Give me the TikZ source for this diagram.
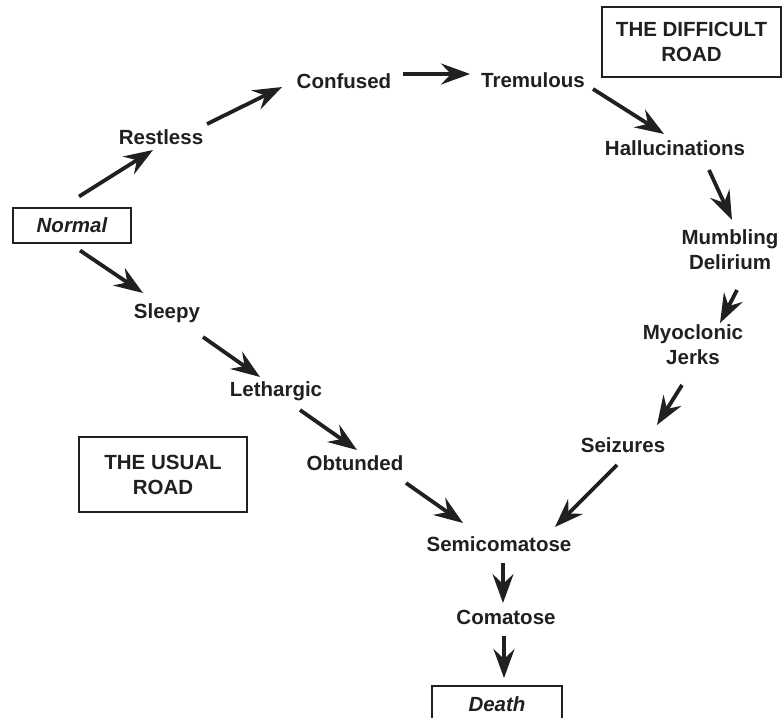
\documentclass[tikz,border=0pt]{standalone}
\usepackage{fontspec}
\setmainfont{Liberation Sans}
\usetikzlibrary{arrows.meta}
\definecolor{ink}{HTML}{202020}
\tikzset{
  lbl/.style={font=\fontsize{20.5}{25}\selectfont\bfseries, text=ink, inner sep=0pt, align=center},
  ibox/.style={lbl, font=\fontsize{20.5}{25}\selectfont\bfseries\itshape, draw=ink, line width=2.8pt},
  rbox/.style={lbl, draw=ink, line width=2.8pt},
  arr/.style={draw=ink, line width=3.8pt, -{Stealth[length=29pt,width=21pt,inset=10pt]}}
}
\begin{document}
\begin{tikzpicture}[x=1pt,y=-1pt]
\useasboundingbox (0,0) rectangle (783,717);
\clip (0,0) rectangle (783,717);
% nodes
\node[ibox, minimum width=118pt, minimum height=35pt] (normal) at (72,225.5) {Normal};
\node[lbl] (restless) at (161,137) {Restless};
\node[lbl] (confused) at (344,81) {Confused};
\node[lbl] (tremulous) at (533,80) {Tremulous};
\node[lbl] (halluc) at (675,148) {Hallucinations};
\node[lbl] (mumbling) at (730,250) {Mumbling\\Delirium};
\node[lbl] (myoclonic) at (693,345) {Myoclonic\\Jerks};
\node[lbl] (seizures) at (623,445) {Seizures};
\node[lbl] (semi) at (499,544) {Semicomatose};
\node[lbl] (comatose) at (506,617) {Comatose};
\node[lbl] (sleepy) at (167,313) {Sleepy};
\node[lbl] (lethargic) at (276,391) {Lethargic};
\node[lbl] (obtunded) at (355,463) {Obtunded};
\node[rbox, minimum width=168pt, minimum height=75pt] (usual) at (163,474.5) {THE USUAL\\ROAD};
\node[rbox, minimum width=179pt, minimum height=70pt] (difficult) at (691.5,42) {THE DIFFICULT\\ROAD};
\node[ibox, minimum width=130pt, minimum height=36pt] (death) at (497,704) {Death};
% connectors
\draw[arr] ([shift={(7,-29)}]normal.center) -- ([shift={(-8,13)}]restless.center);
\draw[arr] ([shift={(46,-13)}]restless.center) -- ([shift={(-62,6)}]confused.center);
\draw[arr] ([shift={(59,-7)}]confused.center) -- ([shift={(-63,-6)}]tremulous.center);
\draw[arr] ([shift={(60,9)}]tremulous.center) -- ([shift={(-11,-14)}]halluc.center);
\draw[arr] ([shift={(34,22)}]halluc.center) -- ([shift={(2,-30)}]mumbling.center);
\draw[arr] ([shift={(7,40)}]mumbling.center) -- ([shift={(27,-22)}]myoclonic.center);
\draw[arr] ([shift={(-11,40)}]myoclonic.center) -- ([shift={(34,-20)}]seizures.center);
\draw[arr] ([shift={(-6,20)}]seizures.center) -- ([shift={(56,-17)}]semi.center);
\draw[arr] ([shift={(51,20)}]obtunded.center) -- ([shift={(-36,-21)}]semi.center);
\draw[arr] ([shift={(8,25)}]normal.center) -- ([shift={(-24,-20)}]sleepy.center);
\draw[arr] ([shift={(36,24)}]sleepy.center) -- ([shift={(-16,-14)}]lethargic.center);
\draw[arr] ([shift={(24,19)}]lethargic.center) -- ([shift={(2,-13)}]obtunded.center);
\draw[arr] ([shift={(4,19)}]semi.center) -- ([shift={(-3,-14)}]comatose.center);
\draw[arr] ([shift={(-2,19)}]comatose.center) -- ([shift={(7,-26)}]death.center);
\end{tikzpicture}
\end{document}
